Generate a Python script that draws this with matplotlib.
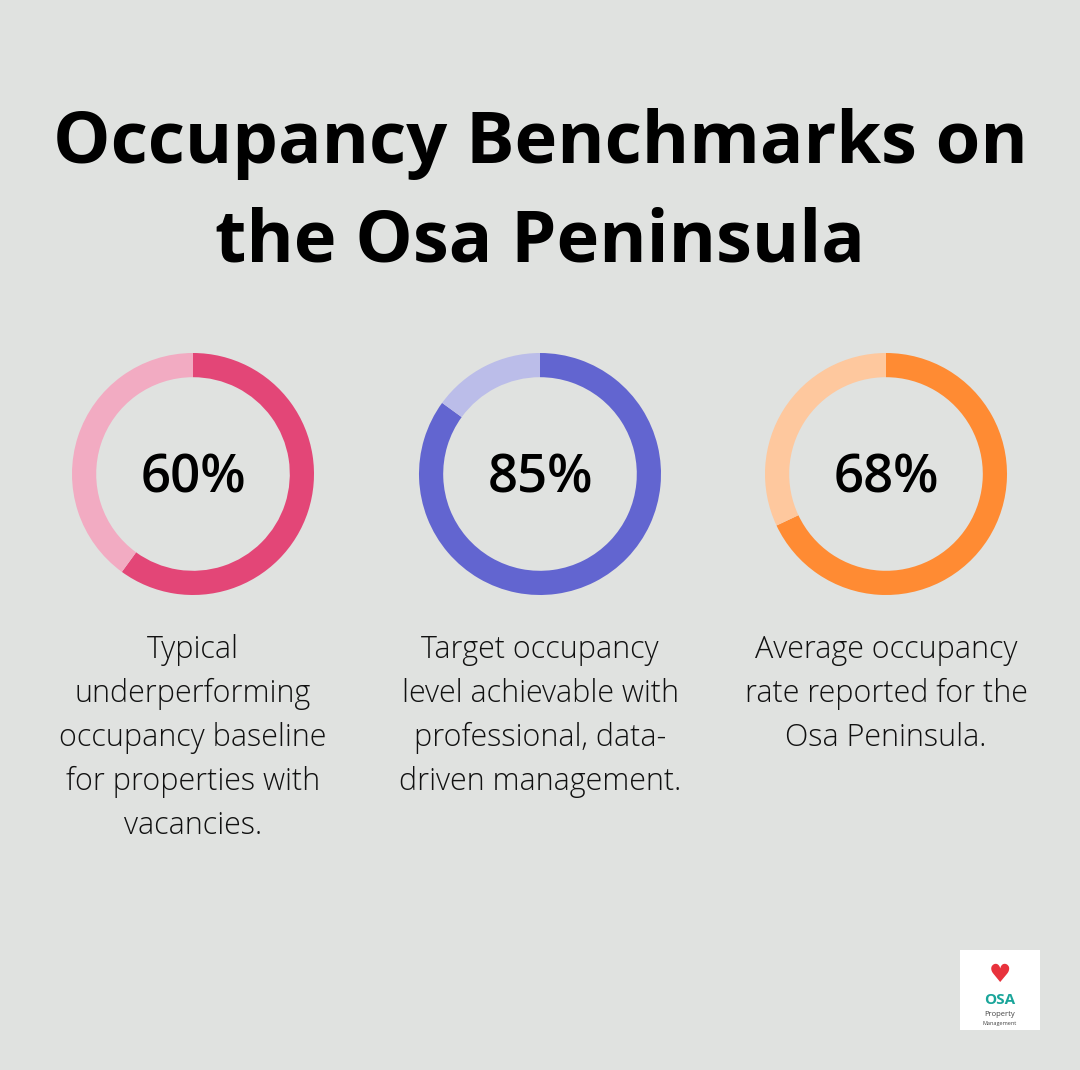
import matplotlib
matplotlib.use("Agg")
import matplotlib.pyplot as plt
from matplotlib.patches import Rectangle

values = [60, 85, 68]
labels = ["60%", "85%", "68%"]
descriptions = [
    "Typical\nunderperforming\noccupancy baseline\nfor properties with\nvacancies.",
    "Target occupancy\nlevel achievable with\nprofessional, data-\ndriven management.",
    "Average occupancy\nrate reported for the\nOsa Peninsula.",
]
dark_colors = ["#e34677", "#6265d0", "#ff8b33"]
light_colors = ["#f2abc2", "#bbbde9", "#fec89e"]

W, H = 1080, 1070
fig = plt.figure(figsize=(W/100, H/100), dpi=100)
fig.patch.set_facecolor("#e0e2e0")
plt.rcParams['font.family'] = ['Open Sans', 'DejaVu Sans']

fig.text(0.5, 1-144/H, "Occupancy Benchmarks on", ha="center", va="center",
         fontsize=52, fontweight="bold", color="black")
fig.text(0.5, 1-242/H, "the Osa Peninsula", ha="center", va="center",
         fontsize=52, fontweight="bold", color="black")

centers = [193, 540, 886]
cy = 474
R = 121
for cx, v, lab, desc, dc, lc in zip(centers, values, labels, descriptions, dark_colors, light_colors):
    ax = fig.add_axes([(cx-R)/W, 1-(cy+R)/H, 2*R/W, 2*R/H])
    ax.pie([v, 100-v], colors=[dc, lc], startangle=90, counterclock=False,
           radius=1.0, wedgeprops=dict(width=0.2, edgecolor="none"))
    ax.set_aspect("equal")
    ax.set_xlim(-1, 1); ax.set_ylim(-1, 1)
    ax.axis("off")
    fig.text(cx/W, 1-(cy+5)/H, lab, ha="center", va="center", fontsize=38,
             fontweight="semibold", color="black")
    fig.text(cx/W, 1-634/H, desc, ha="center", va="top", fontsize=22,
             fontweight="light", color="#111111", linespacing=1.5)

# logo
fig.patches.append(Rectangle((960/W, 1-1030/H), 80/W, 80/H, transform=fig.transFigure,
                             facecolor="white", edgecolor="none"))
fig.text(1000/W, 1-975/H, "\u2665", ha="center", va="center", fontsize=18, color="#e8323c",
         family=['DejaVu Sans'])
fig.text(1000/W, 1-1000/H, "OSA", ha="center", va="center", fontsize=11, fontweight="bold", color="#1aa59a")
fig.text(1000/W, 1-1015/H, "Property", ha="center", va="center", fontsize=5.5, color="#444444")
fig.text(1000/W, 1-1023/H, "Management", ha="center", va="center", fontsize=4, color="#444444")

fig.savefig("out.png", dpi=100, facecolor=fig.get_facecolor())
